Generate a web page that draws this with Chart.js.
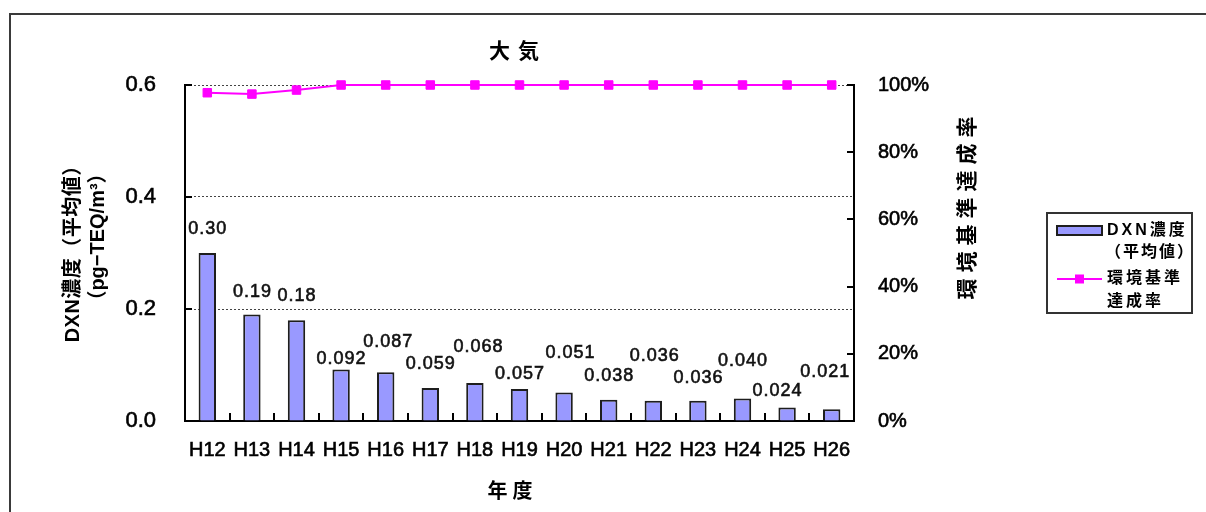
<!DOCTYPE html>
<html>
<head>
<meta charset="utf-8">
<script src="https://cdn.jsdelivr.net/npm/chart.js@4/dist/chart.umd.min.js"></script>
<style>
  html, body { margin: 0; padding: 0; background: #fff; }
  #wrap { position: relative; width: 1206px; height: 512px; }
</style>
</head>
<body>
<div id="wrap"><canvas id="c" width="1206" height="512"></canvas></div>
<script>
// 年度別 大気中ダイオキシン類濃度（平均値）と環境基準達成率
const years = ['H12', 'H13', 'H14', 'H15', 'H16', 'H17', 'H18', 'H19', 'H20', 'H21', 'H22', 'H23', 'H24', 'H25', 'H26'];
const dxnMean = [0.30, 0.19, 0.18, 0.092, 0.087, 0.059, 0.068, 0.057, 0.051, 0.038, 0.036, 0.036, 0.040, 0.024, 0.021];
const attainRate = [97.7, 97.3, 98.5, 100, 100, 100, 100, 100, 100, 100, 100, 100, 100, 100, 100];
const leftTicks = [0, 0.2, 0.4, 0.6];
const rightTicks = [0, 20, 40, 60, 80, 100];

// value label placement around each bar top: [dx, rise] in px
const labelNudge = [[0, 24], [0, 23], [0, 24], [0, 10], [2, 30], [0, 24], [3, 36], [0, 15],
                    [6, 39], [0, 24], [1, 45], [0, 23], [0, 38], [-10, 17], [-7, 37]];

const LATIN = '"Liberation Sans", Arial, "Noto Sans CJK JP", sans-serif';
const BAR_FILL = '#9999FF';
const BAR_EDGE = '#1e1e1e';
const LINE_COL = '#FF00FF';
const TEXT_STROKE = 0.6;

function fmtValue(v) { return v >= 0.1 ? v.toFixed(2) : v.toFixed(3); }

function spacedWidth(ctx, text, sp) {
  const chars = Array.from(text);
  let w = 0;
  for (const ch of chars) w += ctx.measureText(ch).width;
  return w + sp * (chars.length - 1);
}
function drawSpaced(ctx, text, x, y, sp, align, stroke) {
  const w = spacedWidth(ctx, text, sp);
  let cx = align === 'center' ? x - w / 2 : (align === 'right' ? x - w : x);
  ctx.textAlign = 'left';
  for (const ch of Array.from(text)) {
    if (stroke) {
      ctx.lineWidth = stroke;
      ctx.strokeStyle = ctx.fillStyle;
      ctx.strokeText(ch, cx, y);
    }
    ctx.fillText(ch, cx, y);
    cx += ctx.measureText(ch).width + sp;
  }
}

const decorations = {
  id: 'decorations',
  beforeDraw(chart) {
    const ctx = chart.ctx;
    ctx.save();
    ctx.fillStyle = '#fff';
    ctx.fillRect(0, 0, chart.width, chart.height);
    // outer frame (top and left edges)
    ctx.strokeStyle = '#3a3a3a';
    ctx.lineWidth = 2;
    ctx.beginPath();
    ctx.moveTo(1206, 14);
    ctx.lineTo(10, 14);
    ctx.lineTo(10, 512);
    ctx.stroke();
    ctx.restore();
  },
  afterDraw(chart) {
    const ctx = chart.ctx;
    const area = chart.chartArea;
    const xs = chart.scales.x, ys = chart.scales.y, ys1 = chart.scales.y1;
    ctx.save();

    // inward tick marks
    ctx.strokeStyle = '#000';
    ctx.lineWidth = 2;
    ctx.beginPath();
    for (let i = 0; i <= years.length; i++) {
      const x = Math.round(xs.getPixelForValue(i - 0.5));
      ctx.moveTo(x, area.bottom);
      ctx.lineTo(x, area.bottom - 8);
    }
    for (const v of leftTicks) {
      const y = Math.round(ys.getPixelForValue(v));
      ctx.moveTo(area.left, y);
      ctx.lineTo(area.left + 7, y);
    }
    for (const v of rightTicks) {
      const y = Math.round(ys1.getPixelForValue(v));
      ctx.moveTo(area.right, y);
      ctx.lineTo(area.right - 7, y);
    }
    ctx.stroke();

    // value labels above bars
    const barMeta = chart.getDatasetMeta(1);
    ctx.fillStyle = '#111';
    ctx.font = '18px ' + LATIN;
    ctx.textBaseline = 'middle';
    barMeta.data.forEach((bar, i) => {
      const [dx, rise] = labelNudge[i];
      drawSpaced(ctx, fmtValue(dxnMean[i]), bar.x + dx, bar.y - rise, 1, 'center', TEXT_STROKE);
    });

    // chart title
    ctx.fillStyle = '#000';
    ctx.font = 'bold 21px ' + LATIN;
    drawSpaced(ctx, '大気', 514, 52, 8, 'center');

    // x axis title
    ctx.font = 'bold 20px ' + LATIN;
    drawSpaced(ctx, '年度', 510, 492, 5, 'center');

    // left axis title (two lines, rotated)
    ctx.save();
    ctx.translate(73, 249);
    ctx.rotate(-Math.PI / 2);
    ctx.font = 'bold 20px ' + LATIN;
    drawSpaced(ctx, 'DXN濃度（平均値）', 0, 0, 0.5, 'center');
    ctx.restore();
    ctx.save();
    ctx.translate(98, 237);
    ctx.rotate(-Math.PI / 2);
    ctx.font = 'bold 20px ' + LATIN;
    drawSpaced(ctx, '（pg−TEQ/m³）', 0, 0, 0, 'center');
    ctx.restore();

    // right axis title (rotated)
    ctx.save();
    ctx.translate(968, 208);
    ctx.rotate(-Math.PI / 2);
    ctx.font = 'bold 21px ' + LATIN;
    drawSpaced(ctx, '環境基準達成率', 0, 0, 6, 'center');
    ctx.restore();

    // legend
    const barDs = chart.data.datasets[1];
    const lineDs = chart.data.datasets[0];
    ctx.strokeStyle = '#333';
    ctx.lineWidth = 2;
    ctx.strokeRect(1047, 213, 145, 100);

    ctx.fillStyle = barDs.backgroundColor;
    ctx.fillRect(1057, 226, 45, 9);
    ctx.strokeStyle = barDs.borderColor;
    ctx.lineWidth = 2;
    ctx.strokeRect(1057, 226, 45, 9);

    ctx.strokeStyle = lineDs.borderColor;
    ctx.lineWidth = lineDs.borderWidth;
    ctx.beginPath();
    ctx.moveTo(1057, 279);
    ctx.lineTo(1102, 279);
    ctx.stroke();
    ctx.fillStyle = lineDs.backgroundColor;
    ctx.fillRect(1075, 274.5, 9, 9);

    ctx.fillStyle = '#000';
    ctx.font = 'bold 16px ' + LATIN;
    ctx.textBaseline = 'middle';
    drawSpaced(ctx, 'DXN濃度', 1107, 231, 3, 'left');
    drawSpaced(ctx, '（平均値）', 1105, 253, 2, 'left');
    drawSpaced(ctx, '環境基準', 1107, 279, 3, 'left');
    drawSpaced(ctx, '達成率', 1107, 302, 3, 'left');

    ctx.restore();
  }
};

new Chart(document.getElementById('c').getContext('2d'), {
  data: {
    labels: years,
    datasets: [
      {
        type: 'line',
        label: '環境基準達成率',
        data: attainRate,
        yAxisID: 'y1',
        borderColor: LINE_COL,
        backgroundColor: LINE_COL,
        borderWidth: 2,
        pointStyle: 'rect',
        pointRadius: 6,
        pointBorderWidth: 1,
        tension: 0,
        clip: false,
        order: 0
      },
      {
        type: 'bar',
        label: 'DXN濃度（平均値）',
        data: dxnMean,
        yAxisID: 'y',
        backgroundColor: BAR_FILL,
        borderColor: BAR_EDGE,
        borderWidth: 2,
        barPercentage: 0.39,
        categoryPercentage: 1,
        order: 1
      }
    ]
  },
  options: {
    responsive: false,
    animation: false,
    events: [],
    layout: { padding: { left: 0, right: 0, top: 85, bottom: 0 } },
    plugins: {
      legend: { display: false },
      tooltip: { enabled: false },
      title: { display: false }
    },
    scales: {
      x: {
        offset: true,
        grid: { display: false },
        border: { display: true, color: '#000', width: 2 },
        ticks: {
          color: '#000', font: { family: LATIN, size: 20 }, padding: 9, maxRotation: 0, autoSkip: false,
          textStrokeColor: '#000', textStrokeWidth: TEXT_STROKE
        },
        afterFit(s) { s.height = 91; }
      },
      y: {
        position: 'left',
        min: 0,
        max: 0.6,
        afterBuildTicks(s) { s.ticks = leftTicks.map(v => ({ value: v })); },
        ticks: {
          color: '#000', font: { family: LATIN, size: 22 }, padding: 29, callback: v => Number(v).toFixed(1),
          textStrokeColor: '#000', textStrokeWidth: TEXT_STROKE
        },
        grid: {
          drawTicks: false,
          lineWidth: 1,
          color: c => (c.tick && c.tick.value === 0) ? 'rgba(0,0,0,0)' : '#444'
        },
        border: { display: true, color: '#000', width: 2, dash: [2, 2] },
        afterFit(s) { s.width = 185; }
      },
      y1: {
        position: 'right',
        min: 0,
        max: 100,
        afterBuildTicks(s) { s.ticks = rightTicks.map(v => ({ value: v })); },
        ticks: {
          color: '#000', font: { family: LATIN, size: 20 }, padding: 24, callback: v => v + '%',
          textStrokeColor: '#000', textStrokeWidth: TEXT_STROKE
        },
        grid: { display: false, drawTicks: false },
        border: { display: true, color: '#000', width: 2 },
        afterFit(s) { s.width = 352; }
      }
    }
  },
  plugins: [decorations]
});
</script>
</body>
</html>
